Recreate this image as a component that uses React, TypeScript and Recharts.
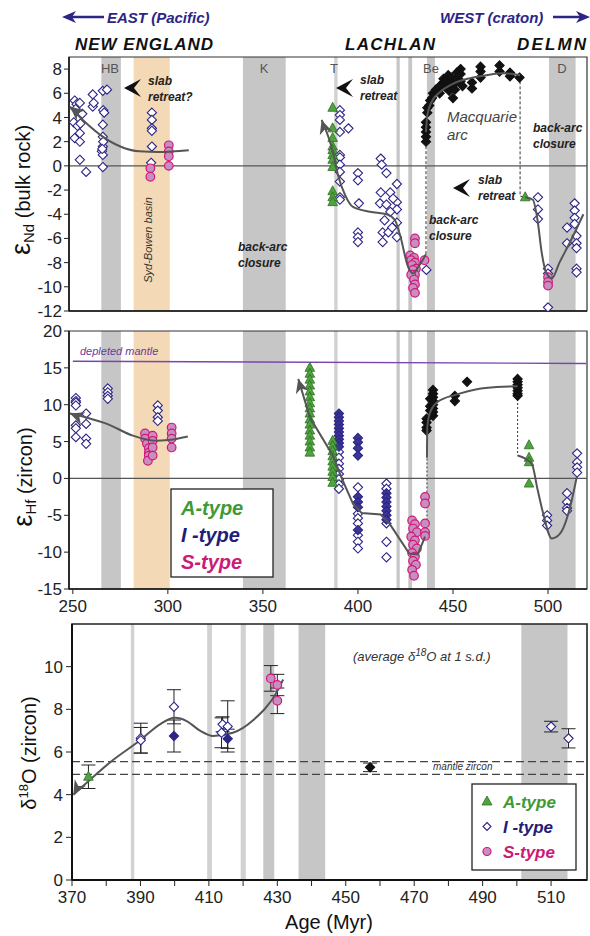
import React from 'react'
import {
  ComposedChart,
  Scatter,
  XAxis,
  YAxis,
  ReferenceArea,
  ReferenceLine,
  ErrorBar,
} from 'recharts'

// ─── Data: εNd (bulk rock) ───────────────────────────────────────────────────

type Pt = [number, number]
type PtE = [number, number, number]

const ndNewEnglandI: Pt[] = [
  [251, 5.4], [252, 5.1], [251.5, 4.7], [253.7, 5.2], [250.5, 3.6], [252.5, 3.3], [254, 3.5],
  [251, 2.3], [253.7, 2.0], [253.7, 2.7], [255, 4.3], [253.7, 0.5], [257, -0.5], [260.5, 5.9],
  [260.5, 4.9], [261, 5.2], [265.8, 6.2], [268, 6.3], [266, 4.6], [265.8, 3.4], [265.8, 2.4],
  [265.8, 1.6], [265.3, 1.2], [265.8, 0.9], [265.8, -0.1], [266.5, 4.4], [266, 2.0], [265.5, 1.4],
  [291.6, 4.4], [291.6, 3.8], [291.6, 3.1], [291.6, 2.9], [291.6, 1.6], [291.2, 0.25],
]
const ndNewEnglandS: Pt[] = [
  [290.8, -0.2], [290.8, -0.9], [300.5, 1.7], [300.5, 1.2], [300.5, 0.8], [300.5, 0],
]
const ndLachlanA: Pt[] = [
  [386.7, 4.8], [386.7, 3.1], [386.7, 2.3], [386.7, 1.6], [386.7, 1.3], [386.7, 0.9],
  [386.7, 0.5], [386.7, -0.1], [386.7, -2.1], [386.7, -2.6], [386.7, -3.0],
]
const ndLachlanI: Pt[] = [
  [390.5, 4.6], [390.5, 4.2], [390.5, 3.8], [390.5, 2.8], [395, 3.1], [390.5, 0.9], [390.5, 0.7],
  [390.5, 0.1], [390.5, -0.5], [390.5, -1.3], [390.5, -2.6], [390.5, -2.8], [400, -0.6], [400, -1.2],
  [400.5, -3.1], [400, -5.5], [400, -5.9], [400, -6.3], [412, 0.6], [412.5, 0.1], [415, -0.6],
  [420.5, -1.5], [412, -2.2], [417, -2.2], [411.6, -3.1], [415, -3.2], [420.5, -3.0], [420.5, -3.6],
  [414, -4.5], [420.5, -4.7], [413, -5.5], [416, -5.5], [420.5, -5.9], [413, -6.3], [418, -5.1],
  [417, -3.8], [418.5, -2.7], [436, -8.6],
]
const ndLachlanS: Pt[] = [
  [430, -6.0], [430, -6.4], [427.5, -7.4], [429.5, -7.6], [428, -7.8], [430, -8.0], [428.5, -8.2],
  [430.5, -8.5], [429, -8.6], [430, -9.0], [428, -9.0], [429.5, -9.4], [430, -9.8], [429, -10.1],
  [430, -10.5], [435, -7.8],
]
const ndMacquarie: Pt[] = [
  [435.8, 2.0], [435.8, 2.4], [435.8, 2.8], [435.8, 3.2], [435.8, 3.6], [436.5, 4.4], [436.5, 4.8],
  [437.5, 5.0], [438, 5.4], [439, 5.6], [439.5, 6.0], [441, 6.3], [443, 6.6], [443, 6.0], [445, 6.9],
  [445, 7.2], [446, 6.5], [447, 7.1], [447.5, 7.5], [448, 6.2], [449, 7.3], [449.5, 6.7], [450, 5.6],
  [451, 6.3], [451, 6.8], [451.5, 7.2], [452, 7.7], [454, 7.0], [454, 7.6], [454, 8.0], [455, 6.6],
  [460, 6.4], [460, 6.9], [464.5, 7.3], [464.5, 7.8], [464.5, 8.2], [474.5, 7.8], [474.5, 8.3],
  [480, 7.4], [480, 7.7], [485, 7.3],
]
const ndDelamA: Pt[] = [[488, -2.6]]
const ndDelamI: Pt[] = [
  [494.7, -2.6], [494.7, -3.6], [494.7, -4.4], [500, -8.5], [500, -8.9], [500, -11.7], [510, -5.1],
  [510, -6.4], [514, -3.1], [514, -3.7], [514, -4.3], [514, -4.8], [515, -5.8], [515, -6.4],
  [515, -6.8], [515, -8.5], [515, -8.8],
]
const ndDelamS: Pt[] = [[500, -9.2], [500, -9.6], [500, -9.9]]

const ndCurveNE: Pt[] = [
  [248.5, 4.9], [252, 4.3], [258, 3.4], [265, 2.5], [275, 1.6], [285, 1.2], [295, 1.15], [311, 1.3],
]
const ndCurveLachlan: Pt[] = [
  [380.9, 3.8], [387, 1.05], [389.5, -0.75], [393.2, -2.4], [397.4, -3.4], [406.3, -3.8],
  [415.1, -4.0], [419.5, -4.5], [422.1, -5.7], [426.5, -8.4], [429, -8.9], [432, -8.3], [435.8, -7.3],
]
const ndCurveMacq: Pt[] = [
  [435.8, 2.8], [436.5, 4.2], [438.8, 5.3], [443.2, 6.1], [450.2, 6.8], [459, 7.25], [467.7, 7.5],
  [476.5, 7.65], [485.3, 7.5],
]
const ndCurveDelam: Pt[] = [
  [488, -2.6], [492, -2.8], [494.5, -4.5], [496.7, -7.2], [499, -8.8], [502, -9.3], [506, -8.0],
  [511.6, -6.3], [518.6, -4.0],
]
const ndDashBe: Pt[] = [[435.8, -7.3], [435.8, 2.0]]
const ndDashD: Pt[] = [[485.3, 7.4], [485.3, -2.5], [488, -2.6]]

// ─── Data: εHf (zircon) ──────────────────────────────────────────────────────

const hfNewEnglandI: Pt[] = [
  [251.6, 10.9], [251.6, 10.5], [251.6, 10.3], [251.6, 9.9], [251.6, 7.2], [251.6, 6.8],
  [251.6, 5.6], [257, 8.8], [257, 7.4], [257, 5.4], [257, 4.7], [268.4, 12.2], [268.4, 11.7],
  [268.4, 11.2], [268.4, 10.8], [294.7, 9.9], [294.7, 9.2], [294.7, 8.3], [294.7, 7.8],
]
const hfNewEnglandS: Pt[] = [
  [288, 6.1], [288, 5.4], [289, 4.7], [290, 4.1], [290, 3.5], [290, 3.1], [289.5, 2.4], [292, 5.8],
  [292, 5.1], [292, 4.2], [292, 3.1], [302, 6.9], [302, 6.1], [302, 5.4], [302, 4.2],
]
const hfLachlanA: Pt[] = [
  [374.7, 15], [374.7, 14.2], [374.7, 13.4], [374.7, 12.6], [374.7, 11.8], [374.7, 11],
  [374.7, 10.2], [374.7, 9.5], [374.7, 8.8], [374.7, 8], [374.7, 7.3], [374.7, 6.5], [374.7, 5.8],
  [374.7, 5], [374.7, 4.2], [374.7, 3.5], [386.7, 5.1], [386.7, 4.4], [386.7, 3.7], [386.7, 3.0],
  [386.7, 2.3], [386.7, 1.6], [386.7, 0.9], [386.7, 0.2], [386.7, -0.6],
]
const hfLachlanIFilled: Pt[] = [
  [390, 8.8], [390, 8.3], [390, 7.8], [390, 7.3], [390, 6.8], [390, 6.3], [390, 5.8], [390, 5.3],
  [390, 4.8], [390, 4.3], [400, 5.5], [400, 4.9], [400, 4.1], [400, 3.1], [400, -2.5], [400, -3.2],
  [400, -3.9], [400, -7.0], [415, -2.0], [415, -2.6], [415, -3.2], [415, -3.8], [415, -4.4],
  [415, -5.0], [415, -5.6],
]
const hfLachlanI: Pt[] = [
  [390, 3.6], [390, 2.8], [390, 2.0], [390, 1.3], [390, 0.6], [390, -0.1], [390, -0.8], [390, -1.4],
  [400, -1.2], [400, -4.8], [400, -5.4], [400, -6.1], [400, -7.7], [400, -8.6], [400, -9.5],
  [415, -0.7], [415, -1.4], [415, -6.1], [415, -8.6], [415, -10.7],
]
const hfLachlanS: Pt[] = [
  [428.5, -5.7], [430, -6.2], [429, -6.8], [431, -7.3], [428, -7.9], [430, -8.4], [429, -9.0],
  [431, -9.5], [428.5, -10.1], [430, -10.6], [429, -11.2], [430.5, -11.7], [428.5, -12.4],
  [429.5, -13.2], [435.3, -2.5], [435.3, -3.4], [435.3, -6.1], [435.3, -7.3], [435.3, -7.8],
]
const hfMacquarie: Pt[] = [
  [436.1, 8.1], [436.1, 7.6], [436.1, 6.9], [436.1, 6.5], [438, 10.8], [438, 9.8], [438, 9.2],
  [439.5, 12.0], [439.5, 11.5], [439.5, 11.0], [439.5, 10.5], [439.5, 10.0], [439.5, 9.5],
  [439.5, 9.0], [439.5, 8.5], [451, 11.2], [451, 10.5], [457.4, 13.1], [484, 13.5], [484, 13.1],
  [484, 12.7], [484, 12.3], [484, 11.9], [484, 11.5], [484, 11.2],
]
const hfDelamA: Pt[] = [[490, 4.5], [490, 2.8], [490, 2.2], [490, -0.7]]
const hfDelamI: Pt[] = [
  [499.5, -5.0], [499.5, -5.7], [499.5, -6.4], [510, -2.0], [510, -3.2], [510, -4.0], [510, -4.4],
  [515.3, 3.4], [515.3, 2.2], [515.3, 1.5], [515.3, 0.8],
]

const hfDepletedMantle: Pt[] = [[250, 15.9], [520, 15.6]]
const hfCurveNE: Pt[] = [
  [248.5, 8.8], [252, 8.6], [258, 8.2], [268, 7.4], [281.6, 5.8], [294, 5.1], [300, 5.2], [310.5, 5.7],
]
const hfCurveLachlan: Pt[] = [
  [368.6, 13.5], [374.7, 8.3], [387, 3.0], [391.5, 0], [397.5, -3.5], [402, -4.7], [412, -4.9],
  [416.8, -6.2], [427, -10.2], [431.5, -10.3], [435.3, -7.9],
]
const hfCurveMacq: Pt[] = [
  [436.3, 2.8], [436.5, 7.0], [438, 9.0], [441.5, 10.3], [452, 11.4], [462.6, 12.1], [473, 12.4],
  [484, 12.5],
]
const hfCurveDelam: Pt[] = [
  [484, 3.1], [491.4, 2.0], [494.5, -1.5], [497.5, -4.8], [502, -8.15], [506.3, -7.5], [511.6, -3.9],
  [515.1, 0.2],
]
const hfDashBe: Pt[] = [[436.3, -5.7], [436.3, 2.8]]
const hfDashD: Pt[] = [[484, 12.4], [484, 3.1]]

// ─── Data: δ18O (zircon), [age, mean, 1 s.d.] ────────────────────────────────

const oA: PtE[] = [[374.8, 4.84, 0.55]]
const oIOpen: PtE[] = [
  [390.1, 6.65, 0.7], [390.1, 6.55, 0.6], [399.8, 8.12, 0.8], [414, 7.3, 0.35], [415.5, 7.2, 1.2],
  [413.7, 6.9, 0.7], [510, 7.19, 0.25], [515.1, 6.64, 0.45],
]
const oIFilled: PtE[] = [[399.8, 6.75, 0.75], [415.5, 6.62, 0.45]]
const oS: PtE[] = [[428.1, 9.45, 0.6], [430, 9.14, 0.5], [430, 8.4, 0.6]]
const oMacq: PtE[] = [[457.1, 5.28, 0.2]]
const oCurve: Pt[] = [
  [370.4, 4.0], [374.3, 4.56], [381, 5.5], [389.9, 6.55], [395.7, 7.3], [400.1, 7.6], [403.5, 7.45],
  [407.4, 7.0], [411.2, 6.75], [417, 6.9], [423, 7.5], [429.9, 8.83], [431.7, 9.4],
]
const oMantleZircon = [4.95, 5.55]

// ─── Bands ───────────────────────────────────────────────────────────────────

const bandsTop: Pt[] = [
  [265, 275.3], [339.5, 362], [387.5, 389.3], [420.3, 422], [426.5, 428.5], [436.3, 440.5], [500.5, 514.5],
]
const sydBowen: Pt = [282, 301]
const bandsO: Pt[] = [
  [387.2, 388.2], [409.5, 410.9], [419.3, 420.8], [425.9, 429.1], [436.2, 444], [501.3, 514.8],
]

const xTicksTop = [250, 300, 350, 400, 450, 500]
const ndTicks = [-12, -10, -8, -6, -4, -2, 0, 2, 4, 6, 8]
const hfTicks = [-15, -10, -5, 0, 5, 10, 15, 20]
const oXTicks = [370, 380, 390, 400, 410, 420, 430, 440, 450, 460, 470, 480, 490, 500, 510]
const oYTicks = [0, 2, 4, 6, 8, 10]

// ─── Styling ─────────────────────────────────────────────────────────────────

const FONT = '"Liberation Sans", Arial, Helvetica, sans-serif'
const NAVY = '#2c2585'
const GREEN = '#3f9a35'
const MAGENTA = '#cc1a78'
const BAND = '#c6c6c6'
const CURVE = '#555'

const xy = (pts: Pt[]) => pts.map(([x, y]) => ({ x, y }))
const xye = (pts: PtE[]) => pts.map(([x, y, err]) => ({ x, y, err }))

const diamond = (fill: string, stroke: string, s = 4.6) => (p: any) =>
  p.cx == null ? <g /> : (
    <path
      d={`M${p.cx},${p.cy - s}L${p.cx + s},${p.cy}L${p.cx},${p.cy + s}L${p.cx - s},${p.cy}Z`}
      fill={fill}
      stroke={stroke}
      strokeWidth={1.1}
    />
  )
const triangle = (p: any) =>
  p.cx == null ? <g /> : (
    <path
      d={`M${p.cx},${p.cy - 5.5}L${p.cx + 4.8},${p.cy + 3.5}L${p.cx - 4.8},${p.cy + 3.5}Z`}
      fill="#4ea43e"
      stroke="#2e6e22"
      strokeWidth={0.8}
    />
  )
const circle = (p: any) =>
  p.cx == null ? <g /> : (
    <circle cx={p.cx} cy={p.cy} r={4.3} fill="#c78fbf" stroke="#d0187a" strokeWidth={1.2} />
  )
const noDot = () => <g />
const arrowHead = (deg: number) => (p: any) =>
  p.cx == null ? <g /> : (
    <path
      d="M0,0L-14,-6.5L-10,0L-14,6.5Z"
      fill={CURVE}
      transform={`translate(${p.cx},${p.cy}) rotate(${deg})`}
    />
  )

const tickStyle = { fontSize: 17, fill: '#222', fontFamily: FONT }

function curve(pts: Pt[], joint: any = 'monotoneX', dash?: string, width = 2) {
  return (
    <Scatter
      data={xy(pts)}
      shape={noDot}
      line={{ stroke: dash ? '#333' : CURVE, strokeWidth: dash ? 1 : width, strokeDasharray: dash }}
      lineJointType={joint}
      isAnimationActive={false}
    />
  )
}

function tip(pt: Pt, deg: number) {
  return <Scatter data={xy([pt])} shape={arrowHead(deg)} isAnimationActive={false} />
}

// ─── Panels ──────────────────────────────────────────────────────────────────

function NdPanel() {
  return (
    <ComposedChart width={590} height={320} margin={{ top: 57, right: 3, bottom: 0, left: 0 }}>
      {bandsTop.map(([a, b], i) => (
        <ReferenceArea key={i} x1={a} x2={b} fill={i === 2 ? '#d2d2d2' : BAND} fillOpacity={1} stroke="none" ifOverflow="visible" />
      ))}
      <ReferenceArea x1={sydBowen[0]} x2={sydBowen[1]} fill="#f4d9b6" fillOpacity={1} stroke="none" />
      <ReferenceLine y={0} stroke="#555" strokeWidth={1.2} />
      <XAxis
        dataKey="x"
        type="number"
        domain={[248, 520.5]}
        allowDataOverflow
        ticks={xTicksTop}
        interval={0}
        tick={false}
        tickSize={5}
        height={9}
        tickLine={{ stroke: '#222' }}
        axisLine={{ stroke: '#111', strokeWidth: 1.5 }}
      />
      <YAxis
        dataKey="y"
        type="number"
        domain={[-12, 9]}
        allowDataOverflow
        ticks={ndTicks}
        interval={0}
        width={69}
        tickSize={5}
        tick={tickStyle}
        tickLine={{ stroke: '#222' }}
        axisLine={{ stroke: '#111', strokeWidth: 1.5 }}
      />
      {curve(ndDashBe, 'linear', '3 2')}
      {curve(ndDashD, 'linear', '3 2')}
      <Scatter data={xy(ndNewEnglandI)} shape={diamond('#fff', NAVY)} isAnimationActive={false} />
      <Scatter data={xy(ndNewEnglandS)} shape={circle} isAnimationActive={false} />
      <Scatter data={xy(ndLachlanI)} shape={diamond('#fff', NAVY)} isAnimationActive={false} />
      <Scatter data={xy(ndLachlanA)} shape={triangle} isAnimationActive={false} />
      <Scatter data={xy(ndLachlanS)} shape={circle} isAnimationActive={false} />
      <Scatter data={xy(ndMacquarie)} shape={diamond('#111', '#111')} isAnimationActive={false} />
      <Scatter data={xy(ndDelamI)} shape={diamond('#fff', NAVY)} isAnimationActive={false} />
      <Scatter data={xy(ndDelamS)} shape={circle} isAnimationActive={false} />
      <Scatter data={xy(ndDelamA)} shape={triangle} isAnimationActive={false} />
      {curve(ndCurveNE)}
      {tip(ndCurveNE[0], -140)}
      {curve(ndCurveLachlan)}
      {tip(ndCurveLachlan[0], -108)}
      {curve(ndCurveMacq)}
      {curve(ndCurveDelam)}
      <ReferenceArea x1={248} x2={520.5} y1={-12} y2={9} fill="none" stroke="#333" strokeWidth={1.2} ifOverflow="visible" />
    </ComposedChart>
  )
}

function HfPanel() {
  return (
    <ComposedChart width={590} height={300} margin={{ top: 11, right: 3, bottom: 0, left: 0 }}>
      {bandsTop.map(([a, b], i) => (
        <ReferenceArea key={i} x1={a} x2={b} fill={i === 2 ? '#d2d2d2' : BAND} fillOpacity={1} stroke="none" />
      ))}
      <ReferenceArea x1={sydBowen[0]} x2={sydBowen[1]} fill="#f4d9b6" fillOpacity={1} stroke="none" />
      <ReferenceLine y={0} stroke="#555" strokeWidth={1.2} />
      <XAxis
        dataKey="x"
        type="number"
        domain={[248, 520.5]}
        allowDataOverflow
        ticks={xTicksTop}
        interval={0}
        tickSize={5}
        tickMargin={6}
        height={31}
        tick={tickStyle}
        tickLine={{ stroke: '#222' }}
        axisLine={{ stroke: '#111', strokeWidth: 1.5 }}
      />
      <YAxis
        dataKey="y"
        type="number"
        domain={[-15, 20]}
        allowDataOverflow
        ticks={hfTicks}
        interval={0}
        width={69}
        tickSize={5}
        tick={tickStyle}
        tickLine={{ stroke: '#222' }}
        axisLine={{ stroke: '#111', strokeWidth: 1.5 }}
      />
      <Scatter
        data={xy(hfDepletedMantle)}
        shape={noDot}
        line={{ stroke: '#7a45b0', strokeWidth: 1.4 }}
        isAnimationActive={false}
      />
      {curve(hfDashBe, 'linear', '2 2')}
      {curve(hfDashD, 'linear', '2 2')}
      <Scatter data={xy(hfNewEnglandI)} shape={diamond('#fff', NAVY)} isAnimationActive={false} />
      <Scatter data={xy(hfNewEnglandS)} shape={circle} isAnimationActive={false} />
      <Scatter data={xy(hfLachlanI)} shape={diamond('#fff', NAVY)} isAnimationActive={false} />
      <Scatter data={xy(hfLachlanIFilled)} shape={diamond('#3a3596', '#2c2585')} isAnimationActive={false} />
      <Scatter data={xy(hfLachlanA)} shape={triangle} isAnimationActive={false} />
      <Scatter data={xy(hfLachlanS)} shape={circle} isAnimationActive={false} />
      <Scatter data={xy(hfMacquarie)} shape={diamond('#111', '#111')} isAnimationActive={false} />
      <Scatter data={xy(hfDelamI)} shape={diamond('#fff', NAVY)} isAnimationActive={false} />
      <Scatter data={xy(hfDelamA)} shape={triangle} isAnimationActive={false} />
      {curve(hfCurveNE)}
      {tip(hfCurveNE[0], -160)}
      {curve(hfCurveLachlan, 'linear')}
      {tip(hfCurveLachlan[0], -106)}
      {curve(hfCurveMacq)}
      {curve(hfCurveDelam)}
      <ReferenceArea x1={248} x2={520.5} y1={-15} y2={20} fill="none" stroke="#333" strokeWidth={1.2} ifOverflow="visible" />
    </ComposedChart>
  )
}

function OPanel() {
  return (
    <ComposedChart width={590} height={321} margin={{ top: 9, right: 3, bottom: 0, left: 0 }}>
      {bandsO.map(([a, b], i) => (
        <ReferenceArea key={i} x1={a} x2={b} fill={i < 3 ? '#d2d2d2' : BAND} fillOpacity={1} stroke="none" />
      ))}
      {oMantleZircon.map((v) => (
        <ReferenceLine key={v} y={v} stroke="#444" strokeWidth={1.2} strokeDasharray="8 4" />
      ))}
      <XAxis
        dataKey="x"
        type="number"
        domain={[370, 520.5]}
        allowDataOverflow
        ticks={oXTicks}
        interval={0}
        tickFormatter={(v: number) => (v % 20 === 10 ? String(v) : '')}
        tickSize={6}
        tickMargin={5}
        height={56}
        tick={tickStyle}
        tickLine={{ stroke: '#222' }}
        axisLine={{ stroke: '#111', strokeWidth: 2 }}
      />
      <YAxis
        dataKey="y"
        type="number"
        domain={[0, 12]}
        allowDataOverflow
        ticks={oYTicks}
        interval={0}
        width={72}
        tickSize={6}
        tickMargin={3}
        tick={tickStyle}
        tickLine={{ stroke: '#222' }}
        axisLine={{ stroke: '#111', strokeWidth: 2 }}
      />
      {curve(oCurve)}
      {tip(oCurve[0], 120)}
      <Scatter data={xye(oA)} shape={triangle} isAnimationActive={false}>
        <ErrorBar dataKey="err" direction="y" width={7} stroke="#222" strokeWidth={1} />
      </Scatter>
      <Scatter data={xye(oIFilled)} shape={diamond('#2c2585', '#2c2585')} isAnimationActive={false}>
        <ErrorBar dataKey="err" direction="y" width={7} stroke="#222" strokeWidth={1} />
      </Scatter>
      <Scatter data={xye(oIOpen)} shape={diamond('#fff', NAVY)} isAnimationActive={false}>
        <ErrorBar dataKey="err" direction="y" width={7} stroke="#222" strokeWidth={1} />
      </Scatter>
      <Scatter data={xye(oS)} shape={circle} isAnimationActive={false}>
        <ErrorBar dataKey="err" direction="y" width={7} stroke="#222" strokeWidth={1} />
      </Scatter>
      <Scatter data={xye(oMacq)} shape={diamond('#111', '#111')} isAnimationActive={false}>
        <ErrorBar dataKey="err" direction="y" width={7} stroke="#222" strokeWidth={1} />
      </Scatter>
      <ReferenceArea x1={370} x2={520.5} y1={0} y2={12} fill="none" stroke="#222" strokeWidth={1.6} ifOverflow="visible" />
    </ComposedChart>
  )
}

// ─── Annotations ─────────────────────────────────────────────────────────────

function Chevron({ x, y }: { x: number; y: number }) {
  return <path d={`M${x},${y}L${x + 17},${y - 9}L${x + 10},${y}L${x + 17},${y + 9}Z`} fill="#111" />
}

function TwoLine({ x, y, a, b, size = 12, weight = 'bold', fill = '#222', gap = 16 }: any) {
  return (
    <text x={x} y={y} fontSize={size} fontStyle="italic" fontWeight={weight} fill={fill}>
      <tspan x={x}>{a}</tspan>
      <tspan x={x} dy={gap}>{b}</tspan>
    </text>
  )
}

function Overlay() {
  const legendRows = [
    { t: 'A-type', c: GREEN },
    { t: 'I -type', c: '#231c78' },
    { t: 'S-type', c: MAGENTA },
  ]
  return (
    <svg
      width={590}
      height={936}
      style={{ position: 'absolute', left: 0, top: 0, pointerEvents: 'none' }}
      fontFamily={FONT}
    >
      {/* direction arrows */}
      <line x1={70} y1={17} x2={104} y2={17} stroke={NAVY} strokeWidth={2.5} />
      <path d="M62,17L76,11L72,17L76,23Z" fill={NAVY} />
      <text x={107} y={23} fontSize={15} fontWeight="bold" fontStyle="italic" fill={NAVY}>EAST (Pacific)</text>
      <text x={440} y={23} fontSize={15} fontWeight="bold" fontStyle="italic" fill={NAVY}>WEST (craton)</text>
      <line x1={553} y1={17} x2={582} y2={17} stroke={NAVY} strokeWidth={2.5} />
      <path d="M590,17L576,11L580,17L576,23Z" fill={NAVY} />

      {/* belt titles */}
      <text x={75} y={50} fontSize={17} fontWeight="bold" fontStyle="italic" fill="#111" textLength={138}>NEW ENGLAND</text>
      <text x={345} y={50} fontSize={17} fontWeight="bold" fontStyle="italic" fill="#111" textLength={90}>LACHLAN</text>
      <text x={517} y={50} fontSize={17} fontWeight="bold" fontStyle="italic" fill="#111" textLength={69}>DELMN</text>

      {/* band letters */}
      {[
        ['HB', 110], ['K', 264], ['T', 334], ['Be', 431], ['D', 562],
      ].map(([t, x]) => (
        <text key={t as string} x={x as number} y={73} fontSize={13} fill="#555" textAnchor="middle">{t}</text>
      ))}

      {/* panel 1 notes */}
      <Chevron x={124} y={88} />
      <TwoLine x={148} y={85} a="slab" b="retreat?" />
      <Chevron x={336} y={88} />
      <TwoLine x={360} y={84} a="slab" b="retreat" />
      <Chevron x={453} y={188} />
      <TwoLine x={478} y={184} a="slab" b="retreat" />
      <TwoLine x={447} y={122} a="Macquarie" b="arc" size={15} weight="normal" fill="#444" gap={18} />
      <TwoLine x={533} y={132} a="back-arc" b="closure" />
      <TwoLine x={238} y={251} a="back-arc" b="closure" />
      <TwoLine x={429} y={224} a="back-arc" b="closure" />
      <text transform="translate(152,240) rotate(-90)" fontSize={11} fontStyle="italic" fill="#333" textAnchor="middle">Syd-Bowen basin</text>

      {/* axis titles */}
      <text transform="translate(30,190) rotate(-90)" fontSize={20} fill="#111" textAnchor="middle">
        <tspan fontSize={27}>ε</tspan>
        <tspan fontSize={15} dy={4}>Nd</tspan>
        <tspan dy={-4}> (bulk rock)</tspan>
      </text>
      <text transform="translate(32,477) rotate(-90)" fontSize={20} fill="#111" textAnchor="middle">
        <tspan fontSize={27}>ε</tspan>
        <tspan fontSize={15} dy={4}>Hf</tspan>
        <tspan dy={-4}> (zircon)</tspan>
      </text>
      <text transform="translate(36,753) rotate(-90)" fontSize={20} fill="#111" textAnchor="middle">
        <tspan>δ</tspan>
        <tspan fontSize={13} dy={-8}>18</tspan>
        <tspan dy={8}>O (zircon)</tspan>
      </text>
      <text x={329} y={929} fontSize={20} fill="#111" textAnchor="middle">Age (Myr)</text>

      {/* panel 2 notes + legend */}
      <text x={80} y={355} fontSize={11} fontStyle="italic" fill="#6a3a9a">depleted mantle</text>
      <rect x={171} y={489} width={102} height={88} fill="#fff" stroke="#222" strokeWidth={1.3} />
      {legendRows.map((r, i) => (
        <text key={r.t} x={181} y={515 + i * 27} fontSize={20} fontWeight="bold" fontStyle="italic" fill={r.c}>{r.t}</text>
      ))}

      {/* panel 3 notes + legend */}
      <text x={353} y={661} fontSize={13} fontStyle="italic" fill="#333">
        (average δ<tspan fontSize={10} dy={-5}>18</tspan><tspan dy={5}>O at 1 s.d.)</tspan>
      </text>
      <text x={433} y={770} fontSize={10} fontStyle="italic" fill="#333">mantle zircon</text>
      <rect x={472} y={784} width={104} height={86} fill="#fff" stroke="#222" strokeWidth={1.3} />
      <path d="M487,796L492,805L482,805Z" fill="#4ea43e" stroke="#2e6e22" strokeWidth={0.8} />
      <path d="M487,822.5L491,826.5L487,830.5L483,826.5Z" fill="#fff" stroke={NAVY} strokeWidth={1.1} />
      <circle cx={487} cy={851.5} r={4} fill="#c78fbf" stroke="#d0187a" strokeWidth={1.2} />
      {legendRows.map((r, i) => (
        <text key={r.t} x={503} y={808 + i * 25} fontSize={17} fontWeight="bold" fontStyle="italic" fill={r.c}>{r.t}</text>
      ))}
    </svg>
  )
}

export default function App() {
  return (
    <div style={{ position: 'absolute', left: 0, top: 0, width: 590, height: 936, background: '#fff', fontFamily: FONT }}>
      <div style={{ position: 'absolute', left: 0, top: 0 }}>
        <NdPanel />
      </div>
      <div style={{ position: 'absolute', left: 0, top: 320 }}>
        <HfPanel />
      </div>
      <div style={{ position: 'absolute', left: 0, top: 615 }}>
        <OPanel />
      </div>
      <Overlay />
    </div>
  )
}
